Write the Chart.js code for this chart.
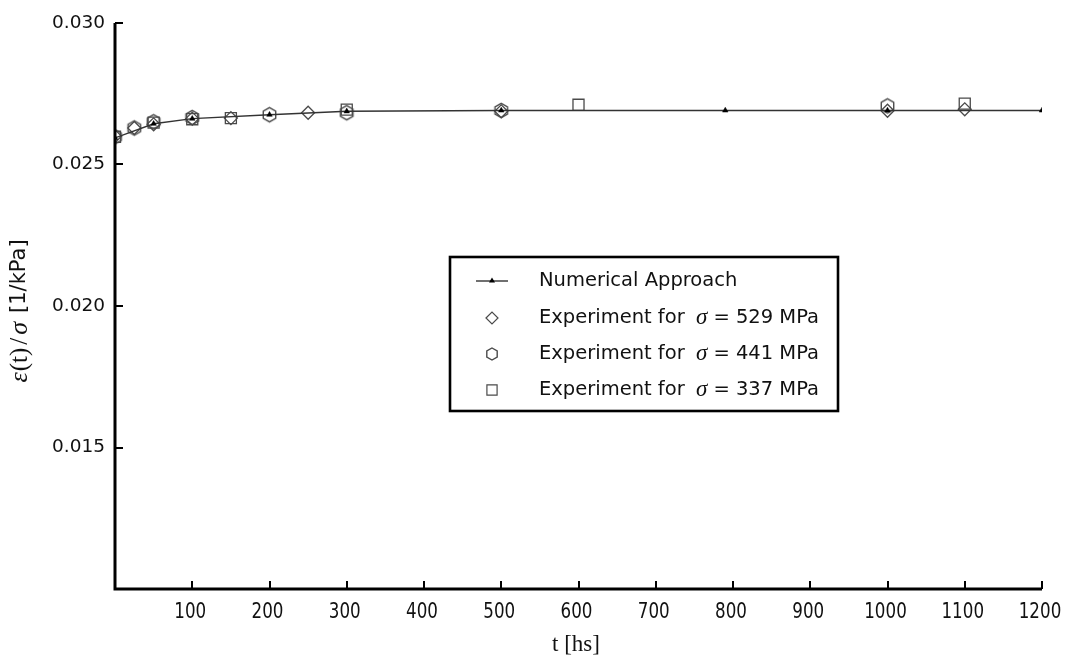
<!DOCTYPE html>
<html>
<head>
<meta charset="utf-8">
<script src="https://cdn.jsdelivr.net/npm/chart.js@4.4.1/dist/chart.umd.min.js"></script>
<style>
  html, body { margin: 0; padding: 0; background: #fff; }
  #wrap { width: 1071px; height: 661px; }
</style>
</head>
<body>
<div id="wrap"><canvas id="c" width="1071" height="661"></canvas></div>
<script>
// Creep compliance ε(t)/σ against time
const timeNumeric  = [0, 50, 100, 200, 300, 500, 790, 1000, 1200];
const valueNumeric = [0.02594, 0.02644, 0.02662, 0.02676, 0.02688, 0.02691, 0.02691, 0.02691, 0.02691];

const time529  = [0, 25, 50, 100, 150, 250, 500, 1000, 1100];
const value529 = [0.02600, 0.02629, 0.02642, 0.02662, 0.02664, 0.02683, 0.02688, 0.02690, 0.02695];

const time441  = [0, 25, 50, 100, 200, 300, 500, 1000];
const value441 = [0.02598, 0.02629, 0.02651, 0.02666, 0.02676, 0.02683, 0.02691, 0.02707];

const time337  = [0, 50, 100, 150, 300, 600, 1100];
const value337 = [0.02598, 0.02648, 0.02660, 0.02664, 0.02694, 0.02711, 0.02715];

const seriesLabels = [
  'Numerical Approach',
  'Experiment for σ = 529 MPa',
  'Experiment for σ = 441 MPa',
  'Experiment for σ = 337 MPa'
];

const xTickValues = [100, 200, 300, 400, 500, 600, 700, 800, 900, 1000, 1100, 1200];
const yTickValues = [0.015, 0.020, 0.025, 0.030];

const toPoints = (xs, ys) => xs.map((t, i) => ({ x: t, y: ys[i] }));

// Hollow hexagon marker (pointy top)
function hexagonMarker(r, color) {
  const size = Math.ceil(2 * r + 4);
  const cv = document.createElement('canvas');
  cv.width = size; cv.height = size;
  const g = cv.getContext('2d');
  const c = size / 2;
  g.beginPath();
  for (let k = 0; k < 6; k++) {
    const a = -Math.PI / 2 + k * Math.PI / 3;
    const px = c + r * Math.cos(a), py = c + r * Math.sin(a);
    k ? g.lineTo(px, py) : g.moveTo(px, py);
  }
  g.closePath();
  g.strokeStyle = color;
  g.lineWidth = 1.4;
  g.stroke();
  return cv;
}

const markerGrey = '#4a4a4a';
const hexMarker = hexagonMarker(7.2, markerGrey);
const hexLegend = hexagonMarker(6, markerGrey);

// Axes lines, inward ticks, narrowed x tick labels, axis titles and the framed legend
const decorPlugin = {
  id: 'decor',
  afterDraw(chart) {
    const { ctx, chartArea: a, scales: { x, y } } = chart;
    ctx.save();
    ctx.strokeStyle = '#000';
    ctx.lineCap = 'butt';

    // axis lines
    ctx.lineWidth = 3;
    ctx.lineJoin = 'miter';
    ctx.beginPath();
    ctx.moveTo(a.left, a.top);
    ctx.lineTo(a.left, a.bottom);
    ctx.lineTo(a.right, a.bottom);
    ctx.stroke();

    // inward tick marks
    ctx.lineWidth = 2;
    ctx.beginPath();
    x.ticks.forEach(t => {
      const px = Math.round(x.getPixelForValue(t.value));
      ctx.moveTo(px, a.bottom);
      ctx.lineTo(px, a.bottom - 8);
    });
    y.ticks.forEach(t => {
      const py = Math.round(y.getPixelForValue(t.value));
      ctx.moveTo(a.left, py);
      ctx.lineTo(a.left + 8, py);
    });
    ctx.stroke();

    // x tick labels, horizontally narrowed
    ctx.fillStyle = '#111';
    ctx.textAlign = 'center';
    ctx.textBaseline = 'middle';
    ctx.font = '22px "DejaVu Sans", sans-serif';
    x.ticks.forEach(t => {
      const px = x.getPixelForValue(t.value);
      ctx.save();
      ctx.translate(px - 2, 612);
      ctx.scale(0.76, 1);
      ctx.fillText(String(t.value), 0, 0);
      ctx.restore();
    });

    // x axis title
    ctx.textAlign = 'center';
    ctx.font = '23px "Liberation Serif", serif';
    ctx.fillText('t [hs]', 576, 645);

    // y axis title (rotated)
    ctx.save();
    ctx.translate(20, 311);
    ctx.rotate(-Math.PI / 2);
    const serif = '25px "Liberation Serif", serif';
    const serifIt = 'italic 26px "Liberation Serif", serif';
    const parts = [
      ['ε', serifIt, 1],
      ['(t)', serif, 3],
      ['/', serif, 3],
      ['σ', serifIt, 9],
      ['[1/kPa]', '21px "DejaVu Sans", sans-serif', 0]
    ];
    let total = 0;
    parts.forEach(p => { ctx.font = p[1]; total += ctx.measureText(p[0]).width + p[2]; });
    let cx = -total / 2;
    ctx.textAlign = 'left';
    parts.forEach(p => { ctx.font = p[1]; ctx.fillText(p[0], cx, 0); cx += ctx.measureText(p[0]).width + p[2]; });
    ctx.restore();

    // legend frame
    const box = { l: 450, t: 257, r: 838, b: 411 };
    ctx.lineWidth = 2.6;
    ctx.strokeStyle = '#000';
    ctx.strokeRect(box.l, box.t, box.r - box.l, box.b - box.t);

    const rowY = [281, 318, 354, 390];
    const symX = 492, textX = 539;
    chart.data.datasets.forEach((ds, i) => {
      const yy = rowY[i];
      if (ds.showLine) {
        ctx.lineWidth = 1.4;
        ctx.strokeStyle = ds.borderColor;
        ctx.beginPath();
        ctx.moveTo(symX - 16, yy);
        ctx.lineTo(symX + 16, yy);
        ctx.stroke();
        ctx.fillStyle = '#000';
        ctx.beginPath();
        ctx.moveTo(symX, yy - 3.5);
        ctx.lineTo(symX + 3, yy + 1.5);
        ctx.lineTo(symX - 3, yy + 1.5);
        ctx.closePath();
        ctx.fill();
      } else {
        ctx.fillStyle = 'rgba(0,0,0,0)';
        ctx.strokeStyle = ds.pointBorderColor;
        ctx.lineWidth = 1.2;
        Chart.helpers.drawPoint(ctx, {
          pointStyle: ds.legendStyle || ds.pointStyle,
          radius: ds.legendRadius,
          borderWidth: 1.2,
          rotation: 0
        }, symX, yy);
      }

      // label text, σ set in italic serif
      ctx.fillStyle = '#111';
      ctx.textAlign = 'left';
      ctx.textBaseline = 'middle';
      const bits = ds.label.split('σ');
      let tx = textX;
      ctx.font = '19.5px "DejaVu Sans", sans-serif';
      ctx.fillText(bits[0], tx, yy);
      tx += ctx.measureText(bits[0]).width;
      if (bits.length > 1) {
        tx += 5;
        ctx.font = 'italic 23px "Liberation Serif", serif';
        ctx.fillText('σ', tx, yy);
        tx += ctx.measureText('σ').width;
        ctx.font = '19.5px "DejaVu Sans", sans-serif';
        ctx.fillText(bits[1], tx, yy);
      }
    });
    ctx.restore();
  }
};

const chart = new Chart(document.getElementById('c'), {
  type: 'scatter',
  data: {
    datasets: [
      {
        label: seriesLabels[0],
        data: toPoints(timeNumeric, valueNumeric),
        showLine: true,
        borderColor: '#333',
        borderWidth: 1.4,
        pointStyle: 'triangle',
        pointRadius: 3.2,
        pointBackgroundColor: '#000',
        pointBorderColor: '#000',
        pointBorderWidth: 0.5,
        tension: 0
      },
      {
        label: seriesLabels[1],
        data: toPoints(time529, value529),
        showLine: false,
        pointStyle: 'rectRot',
        pointRadius: 6.5,
        pointBackgroundColor: 'rgba(0,0,0,0)',
        pointBorderColor: markerGrey,
        pointBorderWidth: 1.3,
        legendRadius: 6
      },
      {
        label: seriesLabels[2],
        data: toPoints(time441, value441),
        showLine: false,
        pointStyle: hexMarker,
        legendStyle: hexLegend,
        pointRadius: 7,
        pointBackgroundColor: 'rgba(0,0,0,0)',
        pointBorderColor: markerGrey,
        pointBorderWidth: 1.3,
        legendRadius: 6
      },
      {
        label: seriesLabels[3],
        data: toPoints(time337, value337),
        showLine: false,
        pointStyle: 'rect',
        pointRadius: 7.8,
        pointBackgroundColor: 'rgba(0,0,0,0)',
        pointBorderColor: markerGrey,
        pointBorderWidth: 1.3,
        legendRadius: 7.2
      }
    ]
  },
  options: {
    responsive: false,
    animation: false,
    devicePixelRatio: 1,
    layout: { padding: { top: 23, right: 29, left: 0, bottom: 0 } },
    plugins: {
      legend: { display: false },
      tooltip: { enabled: false }
    },
    scales: {
      x: {
        type: 'linear',
        min: 0,
        max: 1200,
        afterBuildTicks: s => { s.ticks = xTickValues.map(v => ({ value: v })); },
        afterFit: s => { s.height = 72; s.paddingLeft = 0; s.paddingRight = 0; },
        grid: { display: false, drawTicks: false },
        border: { display: false },
        ticks: { display: false }
      },
      y: {
        type: 'linear',
        min: 0.010,
        max: 0.030,
        afterBuildTicks: s => { s.ticks = yTickValues.map(v => ({ value: v })); },
        afterFit: s => { s.width = 115; s.paddingTop = 0; s.paddingBottom = 0; },
        grid: { display: false, drawTicks: false },
        border: { display: false },
        ticks: {
          padding: 10,
          color: '#111',
          font: { family: '"DejaVu Sans", sans-serif', size: 18.5 },
          callback: v => v.toFixed(3)
        }
      }
    }
  },
  plugins: [decorPlugin]
});
</script>
</body>
</html>
